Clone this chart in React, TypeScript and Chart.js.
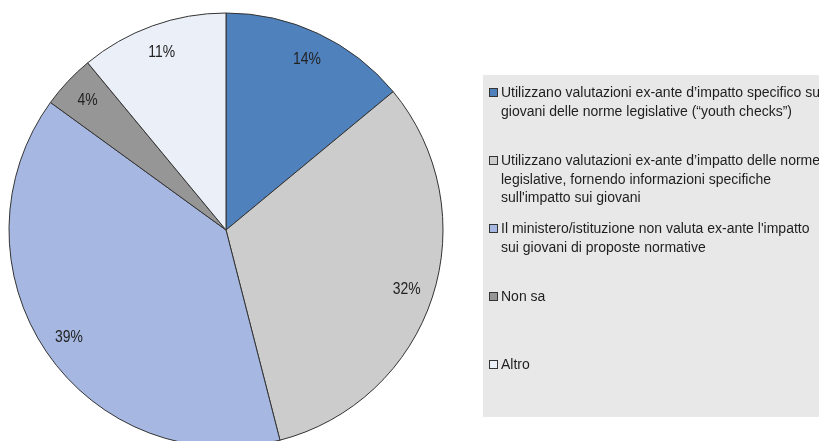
import React, { useEffect, useRef } from "react";
import { Chart, registerables } from "chart.js";

Chart.register(...registerables);

const categories: string[][] = [
  ["Utilizzano valutazioni ex-ante d\u2019impatto specifico su", "giovani delle norme legislative (\u201Cyouth checks\u201D)"],
  ["Utilizzano valutazioni ex-ante d\u2019impatto delle norme", "legislative, fornendo informazioni specifiche", "sull'impatto sui giovani"],
  ["Il ministero/istituzione non valuta ex-ante l'impatto", "sui giovani di proposte normative"],
  ["Non sa"],
  ["Altro"],
];
const values: number[] = [14, 32, 39, 4, 11];
const valueLabels: string[] = ["14%", "32%", "39%", "4%", "11%"];
const colors: string[] = ["#4f81bd", "#cccccc", "#a6b8e2", "#969696", "#ebeff8"];

const FONT = '"Liberation Sans", Arial, sans-serif';

const sliceLabelPlugin = {
  id: "sliceLabels",
  afterDatasetsDraw(chart: any) {
    const ctx = chart.ctx as CanvasRenderingContext2D;
    const meta = chart.getDatasetMeta(0);
    ctx.save();
    ctx.fillStyle = "#222222";
    ctx.font = `16px ${FONT}`;
    ctx.textAlign = "center";
    ctx.textBaseline = "middle";
    meta.data.forEach((arc: any, i: number) => {
      const p = arc.getProps(["x", "y", "startAngle", "endAngle", "outerRadius"], true);
      const mid = (p.startAngle + p.endAngle) / 2;
      const r = p.outerRadius * 0.875;
      const lx = p.x + Math.cos(mid) * r;
      const ly = p.y + Math.sin(mid) * r;
      ctx.save();
      ctx.translate(lx, ly);
      ctx.scale(0.87, 1);
      ctx.fillText(valueLabels[i], 0, 1);
      ctx.restore();
    });
    ctx.restore();
  },
};

const legendPlugin = {
  id: "boxLegend",
  afterDraw(chart: any) {
    const ctx = chart.ctx as CanvasRenderingContext2D;
    const left = 483;
    const top = 75;
    const right = chart.width;
    const bottom = 417;
    ctx.save();
    ctx.fillStyle = "#e8e8e8";
    ctx.fillRect(left, top, right - left, bottom - top);
    ctx.font = `14px ${FONT}`;
    ctx.textBaseline = "middle";
    ctx.textAlign = "left";
    const step = 68;
    const lineH = 18.5;
    categories.forEach((lines, i) => {
      const y0 = top + 18 + i * step;
      ctx.fillStyle = colors[i];
      ctx.fillRect(489.5, y0 - 4.5, 8, 8);
      ctx.strokeStyle = "#333333";
      ctx.lineWidth = 1;
      ctx.strokeRect(489.5, y0 - 4.5, 8, 8);
      ctx.fillStyle = "#1e1e1e";
      lines.forEach((t, j) => {
        ctx.fillText(t, 501, y0 + j * lineH + 0.5);
      });
    });
    ctx.restore();
  },
};

export default function App() {
  const ref = useRef<HTMLCanvasElement | null>(null);
  useEffect(() => {
    document.body.style.margin = "0";
    if (!ref.current) return;
    const chart = new Chart(ref.current, {
      type: "pie",
      data: {
        labels: categories.map((c) => c.join(" ")),
        datasets: [
          {
            data: values,
            backgroundColor: colors,
            borderColor: "#333333",
            borderWidth: 1,
            radius: 217,
            clip: false,
          } as any,
        ],
      },
      options: {
        responsive: false,
        animation: false,
        layout: { padding: { left: 0, right: 367, top: 19, bottom: 0 } },
        plugins: {
          legend: { display: false },
          tooltip: { enabled: false },
        },
      },
      plugins: [sliceLabelPlugin, legendPlugin],
    });
    return () => chart.destroy();
  }, []);
  return (
    <div style={{ position: "absolute", left: 0, top: 0, width: 819, height: 441, background: "#ffffff" }}>
      <canvas ref={ref} width={819} height={441} />
    </div>
  );
}
